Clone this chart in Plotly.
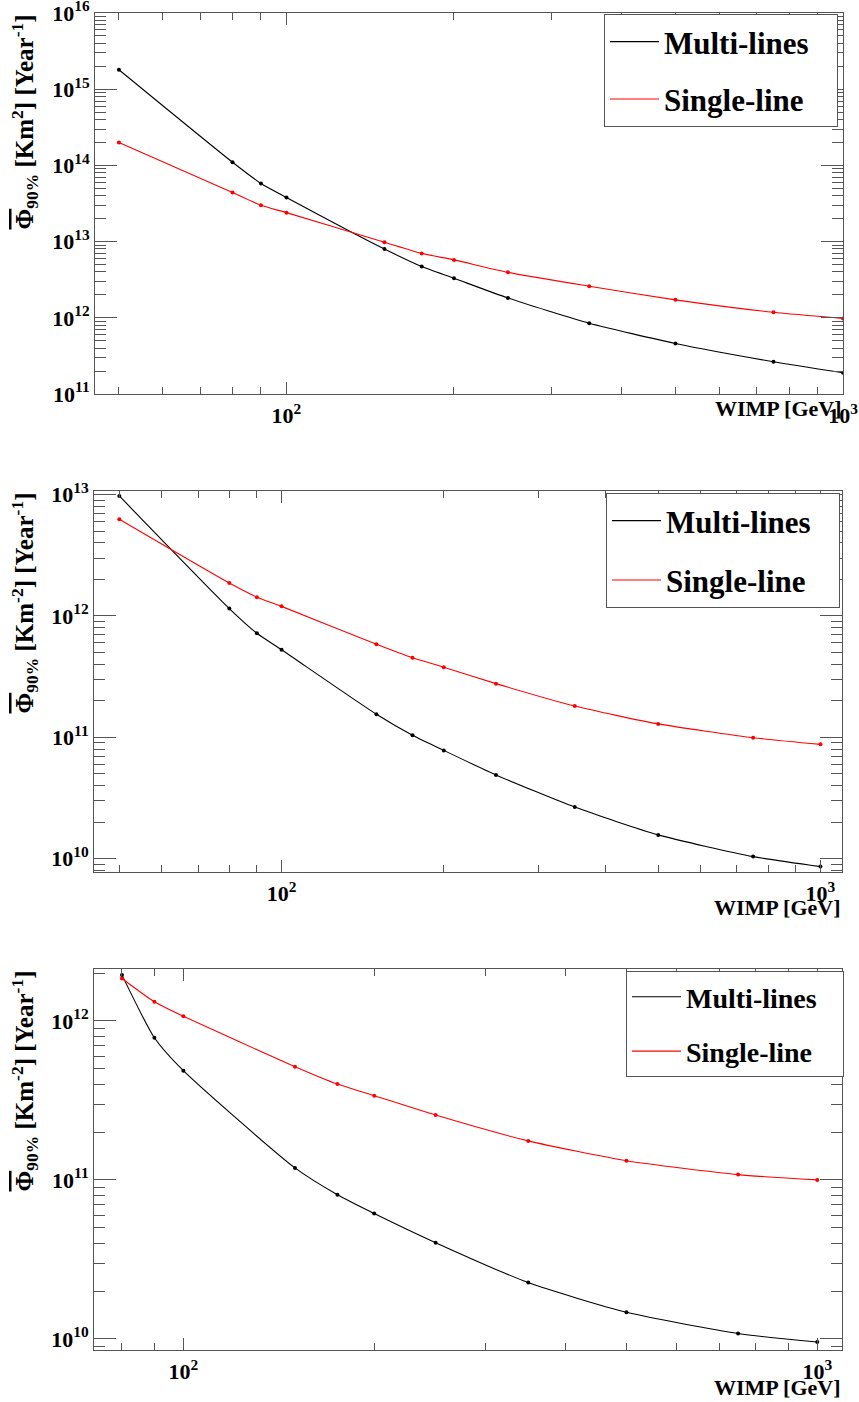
import math
import plotly.graph_objects as go

# ---------------- data ----------------
mass_1 = [50, 80, 90, 100, 150, 175, 200, 250, 350, 500, 750, 1000]
multi_1 = [1.8e15, 1.1e14, 5.8e13, 3.8e13, 8.0e12, 4.7e12, 3.3e12, 1.82e12, 8.5e11, 4.6e11, 2.65e11, 1.9e11]
single_1 = [2.0e14, 4.4e13, 3.0e13, 2.4e13, 9.8e12, 7.0e12, 5.75e12, 3.95e12, 2.6e12, 1.72e12, 1.18e12, 9.8e11]

mass_2 = [50, 80, 90, 100, 150, 175, 200, 250, 350, 500, 750, 1000]
multi_2 = [9.75e12, 1.15e12, 7.2e11, 5.27e11, 1.55e11, 1.04e11, 7.8e10, 4.9e10, 2.66e10, 1.57e10, 1.04e10, 8.6e9]
single_2 = [6.27e12, 1.87e12, 1.43e12, 1.2e12, 5.85e11, 4.53e11, 3.78e11, 2.77e11, 1.81e11, 1.29e11, 9.93e10, 8.75e10]

mass_3 = [80, 90, 100, 150, 175, 200, 250, 350, 500, 750, 1000]
multi_3 = [1.95e12, 7.85e11, 4.87e11, 1.19e11, 8.07e10, 6.15e10, 4.03e10, 2.26e10, 1.47e10, 1.08e10, 9.55e9]
single_3 = [1.85e12, 1.32e12, 1.07e12, 5.16e11, 4.01e11, 3.39e11, 2.56e11, 1.76e11, 1.32e11, 1.08e11, 1.0e11]

series_names = ["Multi-lines", "Single-line"]
series_colors = ["#000000", "#ff0000"]

x_ticks = [100, 1000]
x_ticktext = ["<b>10<sup>2</sup></b>", "<b>10<sup>3</sup></b>"]
y_ticks_1 = [1e11, 1e12, 1e13, 1e14, 1e15, 1e16]
y_ticks_2 = [1e10, 1e11, 1e12, 1e13]
y_ticks_3 = [1e10, 1e11, 1e12]

PHI = '<span style="text-decoration:overline">Φ</span>'
y_titles = [
    "<b>" + PHI + "<sub>90%</sub> [Km<sup>2</sup>] [Year<sup>-1</sup>]</b>",
    "<b>" + PHI + "<sub>90%</sub> [Km<sup>-2</sup>] [Year<sup>-1</sup>]</b>",
    "<b>" + PHI + "<sub>90%</sub> [Km<sup>-2</sup>] [Year<sup>-1</sup>]</b>",
]
x_title = "<b>WIMP [GeV]</b>"

# ---------------- layout geometry (pixels) ----------------
W, H = 859, 1402
FONT = "Liberation Serif"
AXC = "#555555"
NB = "\u00a0"

panels = [
    dict(x=mass_1, m=multi_1, s=single_1, yt=y_ticks_1, xr=[1.656, 3.0], yr=[11.0, 16.0],
         px=(95, 843), py=(13, 394), leg=(604, 14), legfont=31, pad=3, gap=14,
         xtitle_top=394),
    dict(x=mass_2, m=multi_2, s=single_2, yt=y_ticks_2, xr=[1.652, 3.04], yr=[9.89, 13.03],
         px=(94, 842), py=(491, 872), leg=(606, 493), legfont=31, pad=3, gap=16,
         xtitle_top=893),
    dict(x=mass_3, m=multi_3, s=single_3, yt=y_ticks_3, xr=[1.859, 3.039], yr=[9.93, 12.327],
         px=(94, 842), py=(969, 1350), leg=(626, 971), legfont=28, pad=3, gap=15,
         xtitle_top=1373),
]

fig = go.Figure()
layout = dict(
    width=W, height=H,
    margin=dict(l=0, r=0, t=0, b=0, autoexpand=False),
    paper_bgcolor="white", plot_bgcolor="white",
    font=dict(family=FONT, color="black"),
    showlegend=True,
    template="none",
)
annotations = []

for i, p in enumerate(panels):
    n = i + 1
    sfx = "" if n == 1 else str(n)
    xa, ya = "x" + sfx, "y" + sfx
    legname = "legend" + sfx
    for k, (vals, name, col) in enumerate(zip([p["m"], p["s"]], series_names, series_colors)):
        fig.add_trace(go.Scatter(
            x=p["x"], y=vals, name="<b>" + name + "</b>" + NB * p["pad"], mode="lines",
            line=dict(color=col, width=1.1, shape="spline", smoothing=0.6),
            xaxis=xa, yaxis=ya, legend=legname, legendgroup=f"g{n}{k}",
        ))
        fig.add_trace(go.Scatter(
            x=p["x"], y=vals, mode="markers", showlegend=False,
            marker=dict(color=col, size=4),
            xaxis=xa, yaxis=ya, legendgroup=f"g{n}{k}", hoverinfo="skip",
        ))
    xdom = [p["px"][0] / W, p["px"][1] / W]
    ydom = [1 - p["py"][1] / H, 1 - p["py"][0] / H]
    layout["xaxis" + sfx] = dict(
        type="log", range=p["xr"], domain=xdom, anchor=ya, automargin=False,
        showgrid=False, zeroline=False,
        showline=True, linecolor=AXC, linewidth=1, mirror="allticks",
        ticks="inside", ticklen=12, tickcolor=AXC, tickwidth=1,
        tickmode="array", tickvals=x_ticks, ticktext=x_ticktext,
        ticklabelstandoff=2, ticklabeloverflow="allow",
        tickfont=dict(family=FONT, size=22, color="black"),
        minor=dict(ticks="inside", ticklen=7, tickcolor=AXC, dtick="D1", showgrid=False),
    )
    layout["yaxis" + sfx] = dict(
        type="log", range=p["yr"], domain=ydom, anchor=xa, automargin=False,
        showgrid=False, zeroline=False,
        showline=True, linecolor=AXC, linewidth=1, mirror="allticks",
        ticks="inside", ticklen=22, tickcolor=AXC, tickwidth=1,
        tickmode="array", tickvals=p["yt"], ticklabeloverflow="allow",
        ticktext=["<b>10<sup>%d</sup></b>" % round(math.log10(v)) for v in p["yt"]],
        tickfont=dict(family=FONT, size=22, color="black"),
        minor=dict(ticks="inside", ticklen=11, tickcolor=AXC, dtick="D1", showgrid=False),
    )
    layout[legname] = dict(
        x=p["leg"][0] / W, y=1 - p["leg"][1] / H, xanchor="left", yanchor="top",
        bgcolor="white", bordercolor=AXC, borderwidth=1,
        font=dict(family=FONT, size=p["legfont"], color="black"),
        itemwidth=49, tracegroupgap=p["gap"], traceorder="grouped",
    )
    annotations.append(dict(
        text=y_titles[i], textangle=-90, xref="paper", yref="paper",
        x=4 / W, y=1 - p["py"][0] / H, xanchor="left", yanchor="top",
        showarrow=False, font=dict(family=FONT, size=25, color="black"),
    ))
    annotations.append(dict(
        text=x_title, xref="paper", yref="paper",
        x=p["px"][1] / W, y=1 - p["xtitle_top"] / H, xanchor="right", yanchor="top",
        showarrow=False, font=dict(family=FONT, size=22, color="black"),
    ))

layout["annotations"] = annotations
fig.update_layout(**layout)
fig.write_html(
    "out.html",
    config={"displayModeBar": False},
    post_script="document.body.style.margin='0';document.body.style.overflow='hidden';",
)
